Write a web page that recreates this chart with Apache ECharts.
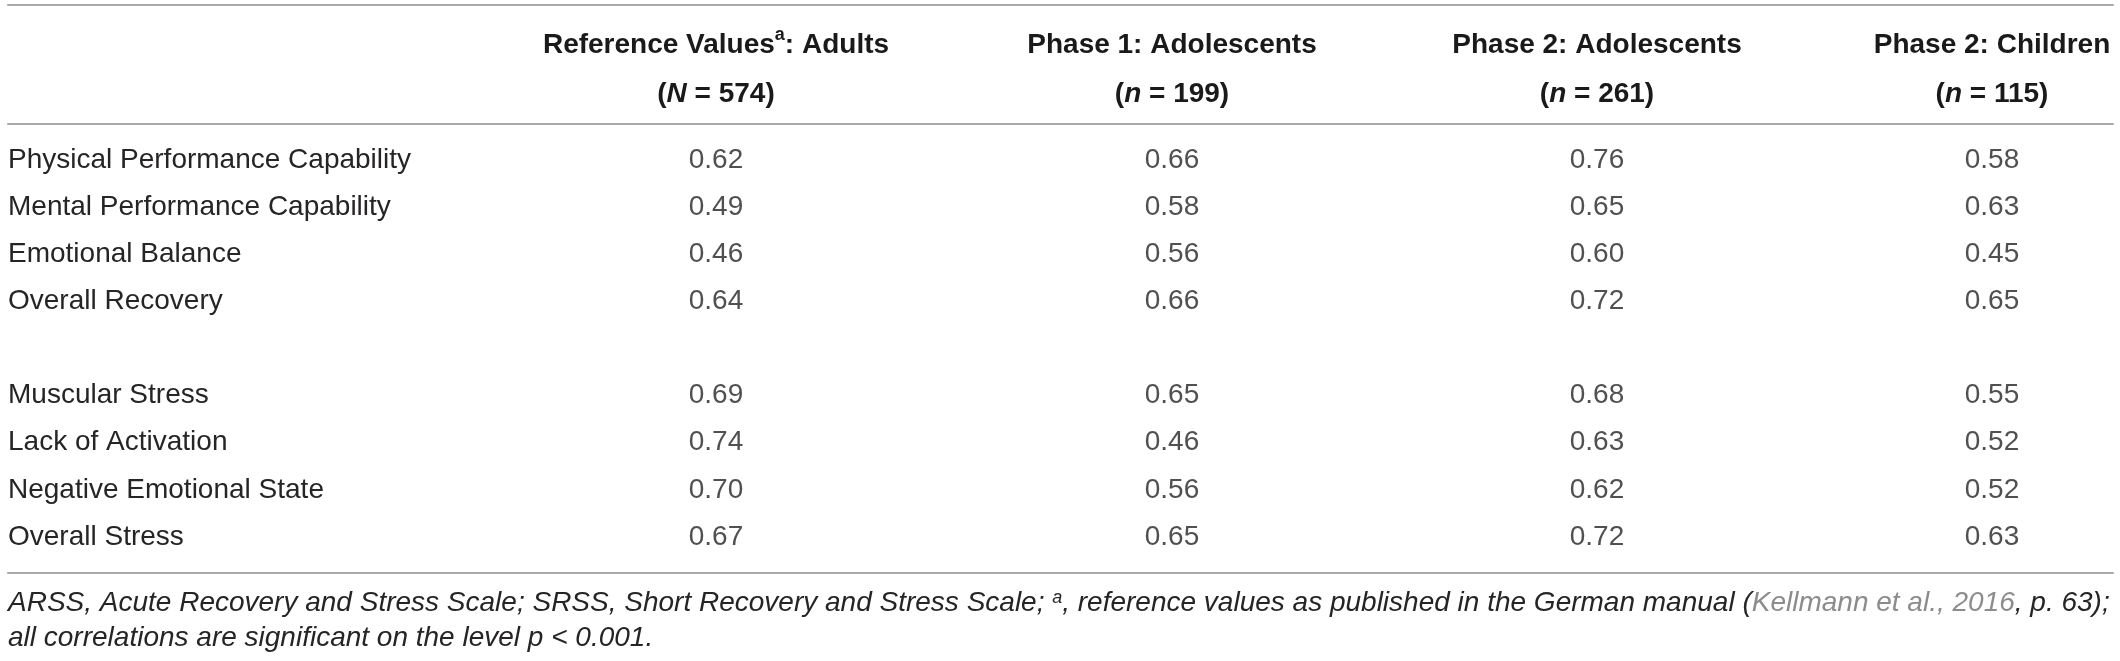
<!DOCTYPE html>
<html style="height: 100%">
<head>
    <meta charset="utf-8">
</head>
<body style="height: 100%; margin: 0; background: #fff">
<div id="container" style="width: 2120px; height: 661px"></div>
<script type="text/javascript" src="https://cdn.jsdelivr.net/npm/echarts@6/dist/echarts.min.js"></script>
<script type="text/javascript">
    // table content
    var recoveryScales = ['Physical Performance Capability', 'Mental Performance Capability', 'Emotional Balance', 'Overall Recovery'];
    var stressScales = ['Muscular Stress', 'Lack of Activation', 'Negative Emotional State', 'Overall Stress'];
    var groupTitles = ['Reference Values{sup|a}: Adults', 'Phase 1: Adolescents', 'Phase 2: Adolescents', 'Phase 2: Children'];
    var sampleLetters = ['N', 'n', 'n', 'n'];
    var sampleSizes = [574, 199, 261, 115];

    var adults = [0.62, 0.49, 0.46, 0.64, 0.69, 0.74, 0.70, 0.67];
    var phase1Adolescents = [0.66, 0.58, 0.56, 0.66, 0.65, 0.46, 0.56, 0.65];
    var phase2Adolescents = [0.76, 0.65, 0.60, 0.72, 0.68, 0.63, 0.62, 0.72];
    var phase2Children = [0.58, 0.63, 0.45, 0.65, 0.55, 0.52, 0.52, 0.63];

    var columns = [adults, phase1Adolescents, phase2Adolescents, phase2Children];
    var rows = recoveryScales.concat([''], stressScales);

    var font = 'Liberation Sans';
    var ink = '#262425';
    var rule = '#a9a9a9';

    var dom = document.getElementById("container");
    var myChart = echarts.init(dom);

    // layout of the columns (centre x of each data column)
    var colCenter = [716, 1172, 1597, 1992];
    var colHalf = 110;
    var bodyTop = 136.5, bodyBottom = 100.5;

    var grids = [
        {left: 8, right: 7, top: 5, bottom: 537, outerBoundsMode: 'none', containLabel: false},
        {left: 8, right: 7, top: 124, bottom: 88, outerBoundsMode: 'none', containLabel: false},
        {left: 8, width: 420, top: bodyTop, bottom: bodyBottom, outerBoundsMode: 'none', containLabel: false}
    ];
    var ruleAxis = function (gi, pos) {
        return {
            type: 'category', gridIndex: gi, position: pos, data: [''],
            axisLine: {show: true, lineStyle: {color: rule, width: 2}},
            axisTick: {show: false}, axisLabel: {show: false}, splitLine: {show: false}
        };
    };
    var xAxes = [ruleAxis(0, 'top'), ruleAxis(0, 'bottom'), ruleAxis(1, 'bottom'),
        {type: 'category', gridIndex: 2, data: [''], show: false}];
    var yAxes = [
        {type: 'category', gridIndex: 0, data: [''], show: false},
        {type: 'category', gridIndex: 1, data: [''], show: false},
        {
            type: 'category', gridIndex: 2, data: rows, inverse: true, position: 'left',
            axisLine: {show: false}, axisTick: {show: false}, splitLine: {show: false},
            axisLabel: {inside: true, margin: 0, align: 'left', interval: 0,
                fontFamily: font, fontSize: 28, color: ink}
        }
    ];
    var series = [];

    var headRich = {
        h: {fontFamily: font, fontSize: 28, fontWeight: 'bold', color: '#1a1a1a', lineHeight: 49, align: 'center'},
        sup: {fontFamily: font, fontSize: 18, fontWeight: 'bold', color: '#1a1a1a', lineHeight: 36,
            verticalAlign: 'top', padding: [6, 0, 0, 0], align: 'center'},
        i: {fontFamily: font, fontSize: 28, fontWeight: 'bold', fontStyle: 'italic', color: '#1a1a1a', lineHeight: 49, align: 'center'}
    };

    columns.forEach(function (values, c) {
        var gi = grids.length;
        grids.push({left: colCenter[c] - colHalf, width: colHalf * 2, top: bodyTop, bottom: bodyBottom,
            outerBoundsMode: 'none', containLabel: false});
        var xi = xAxes.length;
        xAxes.push({
            type: 'category', gridIndex: gi, position: 'top', data: [c],
            axisLine: {show: false}, axisTick: {show: false}, splitLine: {show: false},
            axisLabel: {
                interval: 0, margin: 18, align: 'center', rich: headRich,
                formatter: function () {
                    var t = groupTitles[c].replace(/^([^{]*)/, '{h|$1}').replace(/\}([^{}]+)$/, '}{h|$1}');
                    if (t.indexOf('{h|') !== 0) t = '{h|' + groupTitles[c] + '}';
                    return t + '\n{h|(}{i|' + sampleLetters[c] + '}{h| = ' + sampleSizes[c] + ')}';
                }
            }
        });
        var yi = yAxes.length;
        yAxes.push({type: 'category', gridIndex: gi, data: rows, inverse: true, show: false});
        series.push({
            type: 'scatter', xAxisIndex: xi, yAxisIndex: yi,
            symbolSize: 1, itemStyle: {color: 'rgba(0,0,0,0)'}, silent: true,
            data: values.map(function (v, i) {
                return [0, i < recoveryScales.length ? i : i + 1, v];
            }),
            label: {
                show: true, position: 'inside', fontFamily: font, fontSize: 28, color: ink,
                formatter: function (p) { return p.value[2].toFixed(2); }
            }
        });
    });

    var noteSize = 28;
    var noteStyle = {fontFamily: font, fontSize: noteSize, fontStyle: 'italic', color: ink, lineHeight: 35};
    option = {
        backgroundColor: '#fff',
        animation: false,
        title: {
            left: 8, top: 585.5, padding: 0,
            text: '{t|ARSS, Acute Recovery and Stress Scale; SRSS, Short Recovery and Stress Scale; }{sup|a}' +
                '{t|, reference values as published in the German manual (}{link|Kellmann et al., 2016}{t|, p. 63);}\n' +
                '{t|all correlations are significant on the level p < 0.001.}',
            textStyle: {
                fontWeight: 'normal', fontFamily: font, fontSize: noteSize, lineHeight: 35,
                rich: {
                    t: noteStyle,
                    sup: {fontFamily: font, fontSize: 18, fontStyle: 'italic', color: ink, lineHeight: 28,
                        verticalAlign: 'top', padding: [3, 0, 0, 0]},
                    link: {fontFamily: font, fontSize: noteSize, fontStyle: 'italic', color: '#8c8c8c', lineHeight: 35}
                }
            }
        },
        grid: grids,
        xAxis: xAxes,
        yAxis: yAxes,
        series: series
    };
    if (option && typeof option === "object") {
        myChart.setOption(option, true);
    }
</script>
</body>
</html>
